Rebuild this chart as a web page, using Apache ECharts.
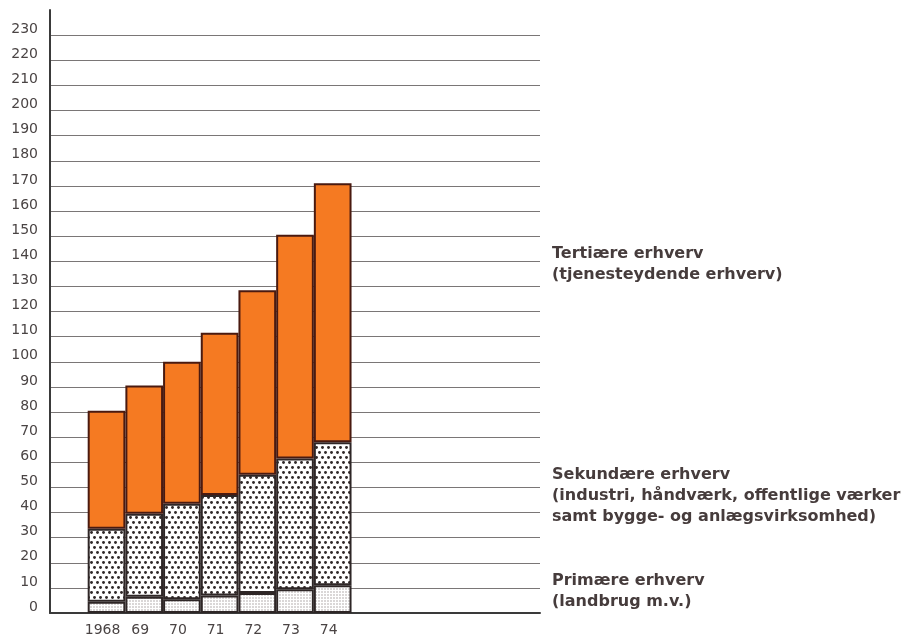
<!DOCTYPE html>
<html>
<head>
<meta charset="utf-8">
<script src="https://cdn.jsdelivr.net/npm/echarts@6/dist/echarts.min.js"></script>
<style>html,body{margin:0;padding:0;background:#fff}#c{width:912px;height:639px}</style>
</head>
<body>
<div id="c"></div>
<script>
// Data
var years = ['1968', '69', '70', '71', '72', '73', '74'];
var primary = [4.5, 6.5, 5.5, 7, 8, 9.5, 11];
var secondary = [29, 33, 38, 40, 47, 52, 57];
var tertiary = [47, 51, 56.5, 64.5, 73.5, 89, 103];
var yTicks = [0, 10, 20, 30, 40, 50, 60, 70, 80, 90, 100, 110, 120, 130, 140, 150, 160, 170, 180, 190, 200, 210, 220, 230];
var legendTexts = [
  ['Tertiære erhverv', '(tjenesteydende erhverv)'],
  ['Sekundære erhverv', '(industri, håndværk, offentlige værker', 'samt bygge- og anlægsvirksomhed)'],
  ['Primære erhverv', '(landbrug m.v.)']
];

// layout: one empty slot before the bars, five empty slots after
var categories = [''].concat(years).concat(['', '', '', '', '']);
function pad(arr) { return ['-'].concat(arr); }

function makePattern(w, h, dots, r, color) {
  var c = document.createElement('canvas');
  c.width = w; c.height = h;
  var ctx = c.getContext('2d');
  ctx.fillStyle = '#fff';
  ctx.fillRect(0, 0, w, h);
  ctx.fillStyle = color;
  dots.forEach(function (d) {
    ctx.beginPath();
    ctx.arc(d[0], d[1], r, 0, Math.PI * 2);
    ctx.fill();
  });
  return c;
}
var secPattern = makePattern(6, 10, [[1.5, 2.5], [4.5, 7.5]], 1.45, '#2f2828');
var primPattern = makePattern(3, 3, [[1, 1]], 0.75, '#a49c9c');

var chart = echarts.init(document.getElementById('c'), null, { renderer: 'canvas' });

var txtColor = '#463c3c';
var graphics = [];
var blocks = [[255, legendTexts[0]], [476, legendTexts[1]], [582, legendTexts[2]]];
blocks.forEach(function (b) {
  b[1].forEach(function (t, i) {
    graphics.push({
      type: 'text', left: 552, top: b[0] - 9 + i * 21,
      style: { text: t, fill: txtColor, font: 'bold 16px "DejaVu Sans", sans-serif' }
    });
  });
});

chart.setOption({
  animation: false,
  backgroundColor: '#fff',
  grid: { left: 50, top: 10, width: 490, height: 603, containLabel: false },
  xAxis: {
    type: 'category',
    data: categories,
    boundaryGap: true,
    axisLine: { show: true, lineStyle: { color: '#3a3a3a', width: 2 } },
    axisTick: { show: false },
    axisLabel: {
      interval: 0, margin: 10, color: '#4a4444',
      fontFamily: '"DejaVu Sans", sans-serif', fontSize: 14,
      padding: [0, 8, 0, 0]
    },
    splitLine: { show: false }
  },
  yAxis: {
    type: 'value',
    min: 0, max: 240, interval: 10,
    axisLine: { show: true, lineStyle: { color: '#3a3a3a', width: 2 } },
    axisTick: { show: false },
    axisLabel: {
      margin: 12, color: '#4a4444',
      fontFamily: '"DejaVu Sans", sans-serif', fontSize: 14,
      verticalAlign: 'bottom', lineHeight: 12,
      formatter: function (v) { return yTicks.indexOf(v) >= 0 ? String(v) : ''; }
    },
    splitLine: { show: true, showMaxLine: false, showMinLine: false, lineStyle: { color: '#7a7676', width: 1 } }
  },
  series: [
    {
      name: 'Primære erhverv', type: 'bar', stack: 'a', barCategoryGap: '0%',
      data: pad(primary),
      itemStyle: { color: { image: primPattern, repeat: 'repeat' }, borderColor: '#2e2626', borderWidth: 2 }
    },
    {
      name: 'Sekundære erhverv', type: 'bar', stack: 'a', barCategoryGap: '0%',
      data: pad(secondary),
      itemStyle: { color: { image: secPattern, repeat: 'repeat' }, borderColor: '#2e2626', borderWidth: 2 }
    },
    {
      name: 'Tertiære erhverv', type: 'bar', stack: 'a', barCategoryGap: '0%',
      data: pad(tertiary),
      itemStyle: { color: '#f57a22', borderColor: '#4a1a10', borderWidth: 2 }
    }
  ],
  graphic: graphics
});
</script>
</body>
</html>
